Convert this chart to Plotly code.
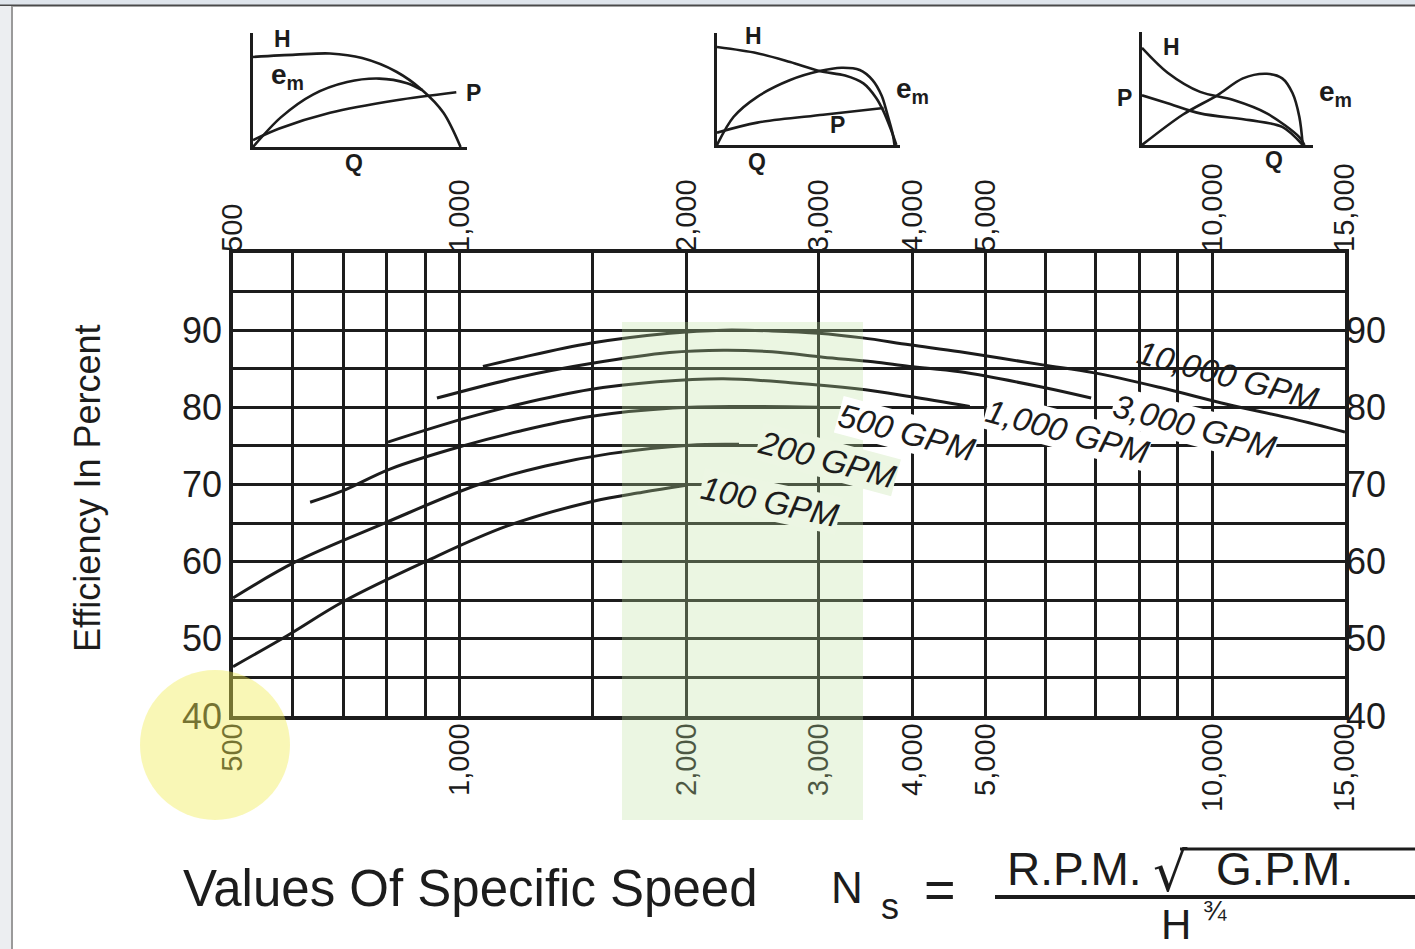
import numpy as np
import plotly.graph_objects as go

# ---------------------------------------------------------------------------
# Pump efficiency vs. specific speed, one curve per capacity (GPM)
# ---------------------------------------------------------------------------
ns_100 = [500, 590, 700, 900, 1155, 1500, 1750, 2000]
eff_100 = [46.4, 50.4, 54.8, 60.0, 64.6, 67.8, 69.0, 69.9]

ns_200 = [500, 606, 795, 1060, 1300, 1584, 2020, 2350]
eff_200 = [55.3, 60.0, 65.0, 70.0, 72.4, 74.0, 75.1, 75.2]

ns_500 = [633, 700, 808, 1010, 1200, 1490, 1920, 2350, 3000]
eff_500 = [67.7, 69.2, 72.0, 75.0, 76.9, 78.8, 79.9, 80.1, 80.0]

ns_1000 = [803, 1010, 1200, 1490, 1830, 2240, 2750, 3370, 3960, 4760]
eff_1000 = [75.5, 78.5, 80.4, 82.3, 83.3, 83.7, 83.2, 82.4, 81.4, 80.1]

ns_3000 = [933, 1200, 1500, 1900, 2240, 2600, 3040, 3540, 3960, 4620, 5950, 6900]
eff_3000 = [81.2, 83.9, 85.7, 87.1, 87.4, 87.2, 86.5, 85.9, 85.3, 84.6, 82.6, 81.2]

ns_10000 = [1074, 1200, 1490, 1900, 2240, 2600, 3000, 3430, 3960, 4620,
            5950, 6940, 8500, 10450, 12800, 15000]
eff_10000 = [85.3, 86.4, 88.3, 89.6, 90.0, 89.9, 89.6, 89.0, 88.1, 87.2,
             85.5, 84.5, 82.6, 80.4, 78.5, 76.8]

# Curve captions and where they sit (Ns, efficiency)
gpm_labels = ["100 GPM", "200 GPM", "500 GPM", "1,000 GPM", "3,000 GPM", "10,000 GPM"]
label_ns = [2584, 3083, 3928, 6425, 9473, 10480]
label_eff = [67.8, 73.3, 76.8, 76.9, 77.5, 84.1]

# Axis ticks and grid
ns_ticks = [500, 1000, 2000, 3000, 4000, 5000, 10000, 15000]
ns_tick_text = ["500", "1,000", "2,000", "3,000", "4,000", "5,000", "10,000", "15,000"]
ns_minor_grid = [600, 700, 800, 900, 1500, 6000, 7000, 8000, 9000]
eff_ticks = [40, 50, 60, 70, 80, 90]
eff_minor_grid = [45, 55, 65, 75, 85, 95, 100]

# Characteristic sketches (normalised Q vs. H, e_m, P) for three pump types
q1_h = [0, 0.20, 0.36, 0.51, 0.67, 0.79, 0.89, 0.97]
h1 = [0.79, 0.81, 0.82, 0.78, 0.66, 0.50, 0.30, 0.0]
q1_e = [0, 0.13, 0.28, 0.44, 0.59, 0.72, 0.79]
e1 = [0.0, 0.26, 0.46, 0.57, 0.60, 0.56, 0.50]
q1_p = [0, 0.12, 0.36, 0.67, 0.95]
p1 = [0.06, 0.16, 0.30, 0.41, 0.48]

q2_h = [0, 0.22, 0.40, 0.56, 0.70, 0.80, 0.87, 0.91, 0.95, 0.98]
h2 = [0.875, 0.82, 0.74, 0.66, 0.62, 0.55, 0.42, 0.30, 0.14, 0.0]
q2_e = [0, 0.09, 0.22, 0.40, 0.56, 0.68, 0.78, 0.85, 0.90, 0.93, 0.96, 0.97]
e2 = [0.0, 0.25, 0.43, 0.58, 0.66, 0.69, 0.67, 0.58, 0.44, 0.28, 0.10, 0.0]
q2_p = [0, 0.22, 0.58, 0.91]
p2 = [0.11, 0.20, 0.27, 0.33]

q3_h = [0, 0.15, 0.34, 0.53, 0.73, 0.92, 0.95]
h3 = [0.86, 0.64, 0.47, 0.40, 0.28, 0.07, 0.0]
q3_p = [0, 0.15, 0.34, 0.63, 0.82, 0.94]
p3 = [0.44, 0.37, 0.28, 0.22, 0.16, 0.0]
q3_e = [0, 0.24, 0.44, 0.59, 0.73, 0.82, 0.88, 0.92, 0.94]
e3 = [0.0, 0.27, 0.44, 0.59, 0.63, 0.59, 0.46, 0.25, 0.0]

# ---------------------------------------------------------------------------
W, H = 1415, 949
INK = "#1c1c1c"
FONT = "Liberation Sans, Arial, Helvetica, sans-serif"


def px(x):
    return x / W


def py(y):
    return 1 - y / H


fig = go.Figure()

for ns, eff in [(ns_100, eff_100), (ns_200, eff_200), (ns_500, eff_500),
                (ns_1000, eff_1000), (ns_3000, eff_3000), (ns_10000, eff_10000)]:
    fig.add_trace(go.Scatter(
        x=ns, y=eff, mode="lines",
        line=dict(color=INK, width=3, shape="spline", smoothing=1.0),
        hoverinfo="skip", showlegend=False))

# invisible trace so the top / right label axes get drawn
fig.add_trace(go.Scatter(x=[500], y=[40], xaxis="x2", yaxis="y2", mode="markers",
                         marker=dict(opacity=0), hoverinfo="skip", showlegend=False))

sketches = [
    ("x3", "y3", [(q1_h, h1), (q1_e, e1), (q1_p, p1)]),
    ("x4", "y4", [(q2_h, h2), (q2_e, e2), (q2_p, p2)]),
    ("x5", "y5", [(q3_h, h3), (q3_e, e3), (q3_p, p3)]),
]
for xa, ya, series in sketches:
    for q, v in series:
        fig.add_trace(go.Scatter(
            x=q, y=v, xaxis=xa, yaxis=ya, mode="lines",
            line=dict(color=INK, width=2.6, shape="spline", smoothing=0.9),
            hoverinfo="skip", showlegend=False))

log_range = [np.log10(500), np.log10(15000)]
x_dom = [px(233), px(1345)]
y_dom = [py(716), py(253)]

grid_style = dict(showgrid=True, gridcolor=INK, gridwidth=2.5)


def mini_axis(dom, anchor):
    return dict(domain=dom, anchor=anchor, range=[0, 1], showline=True, linecolor=INK,
                linewidth=3, showgrid=False, zeroline=False, showticklabels=False,
                ticks="", fixedrange=True, automargin=False)


fig.update_layout(
    width=W, height=H, margin=dict(l=0, r=0, t=0, b=0, autoexpand=False),
    paper_bgcolor="white", plot_bgcolor="white",
    font=dict(family=FONT, color=INK),
    showlegend=False,
    xaxis=dict(type="log", range=log_range, domain=x_dom, anchor="y",
               tickmode="array", tickvals=ns_ticks, ticktext=ns_tick_text,
               tickangle=-90, tickfont=dict(size=29, color=INK), ticklabelstandoff=-8,
               minor=dict(tickmode="array", tickvals=ns_minor_grid, ticks="", **grid_style),
               showline=True, linecolor=INK, linewidth=3.5, mirror=True,
               ticks="", zeroline=False, fixedrange=True, automargin=False,
               **grid_style),
    xaxis2=dict(type="log", range=log_range, overlaying="x", side="top", anchor="y",
                tickmode="array", tickvals=ns_ticks, ticktext=ns_tick_text,
                tickangle=-90, tickfont=dict(size=29, color=INK),
                showgrid=False, showline=False, ticks="", zeroline=False,
                fixedrange=True, automargin=False),
    yaxis=dict(range=[40, 100], domain=y_dom, anchor="x",
               tickmode="array", tickvals=eff_ticks,
               ticktext=[str(v) for v in eff_ticks],
               tickfont=dict(size=36, color=INK),
               minor=dict(tickmode="array", tickvals=eff_minor_grid, ticks="", **grid_style),
               showline=True, linecolor=INK, linewidth=3.5, mirror=True,
               ticks="", zeroline=False, fixedrange=True, automargin=False,
               **grid_style),
    yaxis2=dict(range=[40, 100], overlaying="y", side="right", anchor="x",
                tickmode="array", tickvals=eff_ticks,
                ticktext=[str(v) for v in eff_ticks],
                tickfont=dict(size=36, color=INK),
                showgrid=False, showline=False, ticks="", zeroline=False,
                fixedrange=True, automargin=False),
    xaxis3=mini_axis([px(253), px(467)], "y3"),
    yaxis3=mini_axis([py(147), py(33)], "x3"),
    xaxis4=mini_axis([px(717), px(900)], "y4"),
    yaxis4=mini_axis([py(145), py(33)], "x4"),
    xaxis5=mini_axis([px(1142), px(1313)], "y5"),
    yaxis5=mini_axis([py(145), py(32)], "x5"),
)

annotations = []

# curve captions along the chart; the top caption sits right on its curve,
# so it is drawn without a backing box
green_edge = 863
for text, n, e in zip(gpm_labels, label_ns, label_eff):
    centre_px = 233 + (np.log10(n) - np.log10(500)) / (log_range[1] - log_range[0]) * 1112
    if text == "10,000 GPM":
        bg = "rgba(0,0,0,0)"
    elif centre_px < green_edge:
        bg = "rgb(236,246,227)"
    else:
        bg = "white"
    annotations.append(dict(
        x=np.log10(n), y=e, xref="x", yref="y", text=f"<i>{text}</i>",
        showarrow=False, textangle=15 if text != "100 GPM" else 12,
        font=dict(size=33, family=FONT, color=INK),
        bgcolor=bg, borderpad=0, xanchor="center", yanchor="middle"))

# sketch captions (positions in each sketch's own 0..1 frame)
sketch_text = [
    ("x3", "y3", "H", 0.14, 0.95, 23), ("x3", "y3", "e<sub>m</sub>", 0.16, 0.62, 28),
    ("x3", "y3", "P", 1.03, 0.47, 23), ("x3", "y3", "Q", 0.47, -0.14, 23),
    ("x4", "y4", "H", 0.20, 0.97, 23), ("x4", "y4", "e<sub>m</sub>", 1.07, 0.49, 28),
    ("x4", "y4", "P", 0.66, 0.18, 23), ("x4", "y4", "Q", 0.22, -0.15, 23),
    ("x5", "y5", "H", 0.17, 0.87, 23), ("x5", "y5", "P", -0.10, 0.42, 23),
    ("x5", "y5", "e<sub>m</sub>", 1.13, 0.46, 28), ("x5", "y5", "Q", 0.77, -0.13, 23),
]
for xa, ya, t, qx, vy, size in sketch_text:
    annotations.append(dict(x=qx, y=vy, xref=f"{xa} domain", yref=f"{ya} domain",
                            text=f"<b>{t}</b>", showarrow=False,
                            font=dict(size=size, family=FONT, color=INK),
                            xanchor="center", yanchor="middle"))


def paper_text(x, y, text, size, family=FONT, angle=0, xanchor="center"):
    return dict(x=px(x), y=py(y), xref="paper", yref="paper", text=text,
                showarrow=False, textangle=angle, xanchor=xanchor, yanchor="middle",
                font=dict(size=size, family=family, color=INK))


# axis titles and the specific-speed formula
annotations += [
    paper_text(87, 488, "Efficiency In Percent", 36, angle=-90),
    paper_text(181, 888, "Values Of Specific Speed", 51, xanchor="left"),
    paper_text(847, 887, "N", 44),
    paper_text(890, 906, "s", 36),
    paper_text(940, 889, "=", 54),
    paper_text(1074, 869, "R.P.M.", 46),
    paper_text(1170, 872, "\u221a", 54, family="DejaVu Sans"),
    paper_text(1284, 869, "G.P.M.", 46),
    paper_text(1176, 924, "H", 42),
    paper_text(1215, 910, "\u00be", 28),
]
fig.update_layout(annotations=annotations)

shapes = [
    # fraction bar and radical overline
    dict(type="line", xref="paper", yref="paper", x0=px(995), x1=px(1415),
         y0=py(897), y1=py(897), line=dict(color=INK, width=4)),
    dict(type="line", xref="paper", yref="paper", x0=px(1180), x1=px(1415),
         y0=py(849), y1=py(849), line=dict(color=INK, width=3)),
    # window edges
    dict(type="rect", xref="paper", yref="paper", x0=0, x1=1, y0=py(5), y1=1,
         fillcolor="#dfe5ec", line=dict(width=0)),
    dict(type="line", xref="paper", yref="paper", x0=0, x1=1, y0=py(5.5), y1=py(5.5),
         line=dict(color="#4a4a4a", width=2)),
    dict(type="rect", xref="paper", yref="paper", x0=0, x1=px(11), y0=0, y1=py(6),
         fillcolor="#eceef1", line=dict(width=0)),
    dict(type="line", xref="paper", yref="paper", x0=px(12), x1=px(12), y0=0, y1=py(6),
         line=dict(color="#9a9a9a", width=2)),
    # highlight marks
    dict(type="rect", xref="paper", yref="paper", layer="above",
         x0=px(622), x1=px(863), y0=py(820), y1=py(322),
         fillcolor="rgba(190,225,160,0.30)", line=dict(width=0)),
    dict(type="circle", xref="paper", yref="paper", layer="above",
         x0=px(140), x1=px(290), y0=py(820), y1=py(670),
         fillcolor="rgba(240,235,80,0.42)", line=dict(width=0)),
]
fig.update_layout(shapes=shapes)

fig.write_html("out.html")
